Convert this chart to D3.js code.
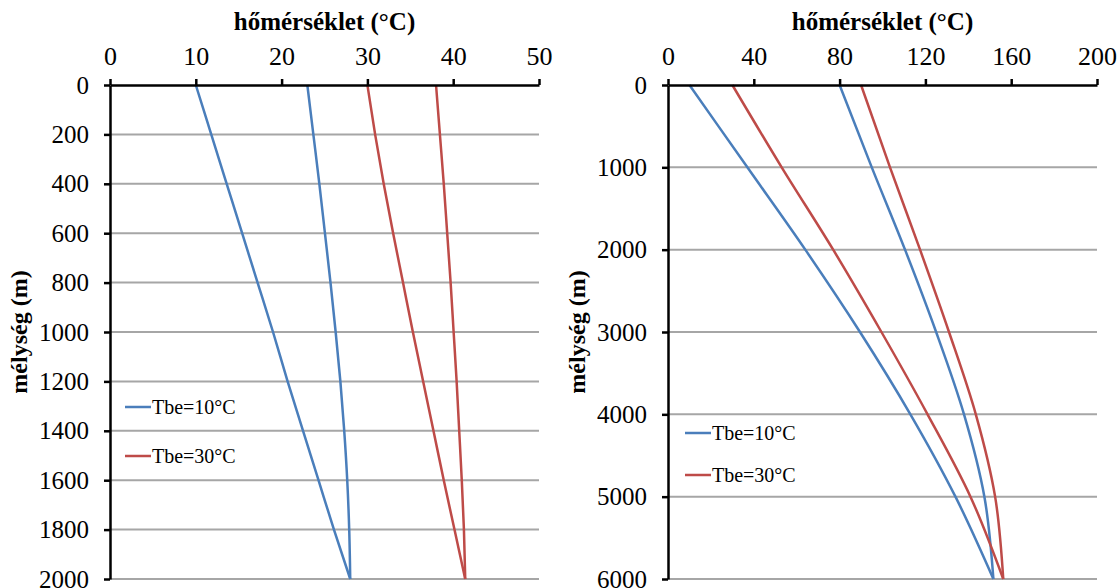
<!DOCTYPE html>
<html>
<head>
<meta charset="utf-8">
<script src="https://cdn.jsdelivr.net/npm/d3@7/dist/d3.min.js"></script>
<style>
  body { margin: 0; background: #fff; }
  svg text { font-family: "Liberation Serif", "Times New Roman", serif; fill: #000; }
</style>
</head>
<body>
<svg id="chart" width="1119" height="588"></svg>
<script>
// left panel: depth 0..2000 m
const depthLeft = [0, 200, 400, 600, 800, 1000, 1200, 1400, 1600, 1800, 2000];
const left10a = [10, 11.8, 13.6, 15.4, 17.2, 19.0, 20.7, 22.5, 24.3, 26.1, 28.0];
const left10b = [23.0, 23.7, 24.4, 25.05, 25.7, 26.3, 26.85, 27.3, 27.65, 27.88, 28.0];
const left30a = [30.0, 30.9, 31.9, 33.0, 34.15, 35.3, 36.5, 37.7, 38.9, 40.15, 41.4];
const left30b = [38.0, 38.45, 38.9, 39.3, 39.7, 40.05, 40.4, 40.7, 41.0, 41.25, 41.4];

// right panel: depth 0..6000 m
const depthRight = [0, 1000, 2000, 3000, 4000, 5000, 6000];
const right10a = [10, 37, 64, 89.5, 113, 134, 151.7];
const right10b = [80, 95, 110.5, 125, 138, 147.5, 151.7];
const right30a = [30, 53, 77, 99.5, 121, 141, 156.3];
const right30b = [90, 103.5, 117.5, 131, 143.5, 152.5, 156.3];

const xTicksLeft = [0, 10, 20, 30, 40, 50];
const yTicksLeft = [0, 200, 400, 600, 800, 1000, 1200, 1400, 1600, 1800, 2000];
const xTicksRight = [0, 40, 80, 120, 160, 200];
const yTicksRight = [0, 1000, 2000, 3000, 4000, 5000, 6000];

const legendNames = ["Tbe=10°C", "Tbe=30°C"];
const blue = "#4a7ebb", red = "#be4b48";
const serif = "'Liberation Serif', 'Times New Roman', serif";

const svg = d3.select("#chart");

function panel(opt) {
  const x = d3.scaleLinear().domain(opt.xDomain).range([opt.x0, opt.x1]);
  const y = d3.scaleLinear().domain(opt.yDomain).range([85, 579]);
  const g = svg.append("g");

  // horizontal gridlines
  g.selectAll(".grid").data(opt.yTicks.slice(1)).enter().append("line")
    .attr("x1", opt.x0).attr("x2", opt.x1)
    .attr("y1", d => y(d)).attr("y2", d => y(d))
    .attr("stroke", "#a6a6a6").attr("stroke-width", 2);

  // series
  const line = d3.line().x(d => x(d[0])).y(d => y(d[1])).curve(d3.curveMonotoneY);
  opt.series.forEach(s => {
    g.append("path")
      .datum(s.values.map((v, i) => [v, opt.depth[i]]))
      .attr("fill", "none").attr("stroke", s.color).attr("stroke-width", 2.5)
      .attr("d", line);
  });

  // top axis
  const xAxis = g.append("g").attr("transform", "translate(0,85)")
    .attr("font-family", serif)
    .call(d3.axisTop(x).tickValues(opt.xTicks).tickFormat(d3.format("d"))
      .tickSize(6).tickPadding(14).tickSizeOuter(0));
  xAxis.select(".domain").attr("stroke", "#000").attr("stroke-width", 2.5);
  xAxis.selectAll(".tick line").attr("stroke-width", 2.5);
  xAxis.selectAll(".tick text").attr("font-size", 26).attr("font-family", serif);

  // left axis
  const yAxis = g.append("g").attr("transform", `translate(${opt.x0},0)`)
    .attr("font-family", serif)
    .call(d3.axisLeft(y).tickValues(opt.yTicks).tickFormat(d3.format("d"))
      .tickSize(6).tickPadding(15).tickSizeOuter(0));
  yAxis.select(".domain").attr("stroke", "#000").attr("stroke-width", 2.5);
  yAxis.selectAll(".tick line").attr("stroke-width", 2.5);
  yAxis.selectAll(".tick text").attr("font-size", 25).attr("font-family", serif);

  // titles
  g.append("text").attr("x", (opt.x0 + opt.x1) / 2).attr("y", 30)
    .attr("text-anchor", "middle").attr("font-size", 25).attr("font-weight", "bold")
    .attr("font-family", serif)
    .text("hőmérséklet (°C)");
  g.append("text")
    .attr("transform", `translate(${opt.x0 - 83},332) rotate(-90)`)
    .attr("text-anchor", "middle").attr("font-size", 24).attr("font-weight", "bold")
    .attr("font-family", serif)
    .text("mélység (m)");

  // legend
  legendNames.forEach((name, i) => {
    const ly = opt.legendY[i];
    g.append("line").attr("x1", opt.x0 + opt.legendDx).attr("x2", opt.x0 + opt.legendDx + 26)
      .attr("y1", ly).attr("y2", ly)
      .attr("stroke", i === 0 ? blue : red).attr("stroke-width", 2.5);
    g.append("text").attr("x", opt.x0 + opt.legendDx + 27).attr("y", ly + 7)
      .attr("font-size", 20).attr("font-family", serif).text(name);
  });
}

panel({
  x0: 110, x1: 539, xDomain: [0, 50], yDomain: [0, 2000],
  xTicks: xTicksLeft, yTicks: yTicksLeft, depth: depthLeft,
  series: [
    {values: left10a, color: blue}, {values: left10b, color: blue},
    {values: left30a, color: red}, {values: left30b, color: red}
  ],
  legendY: [407, 456], legendDx: 15
});

panel({
  x0: 668, x1: 1097, xDomain: [0, 200], yDomain: [0, 6000],
  xTicks: xTicksRight, yTicks: yTicksRight, depth: depthRight,
  series: [
    {values: right10a, color: blue}, {values: right10b, color: blue},
    {values: right30a, color: red}, {values: right30b, color: red}
  ],
  legendY: [433, 475], legendDx: 17
});
</script>
</body>
</html>
